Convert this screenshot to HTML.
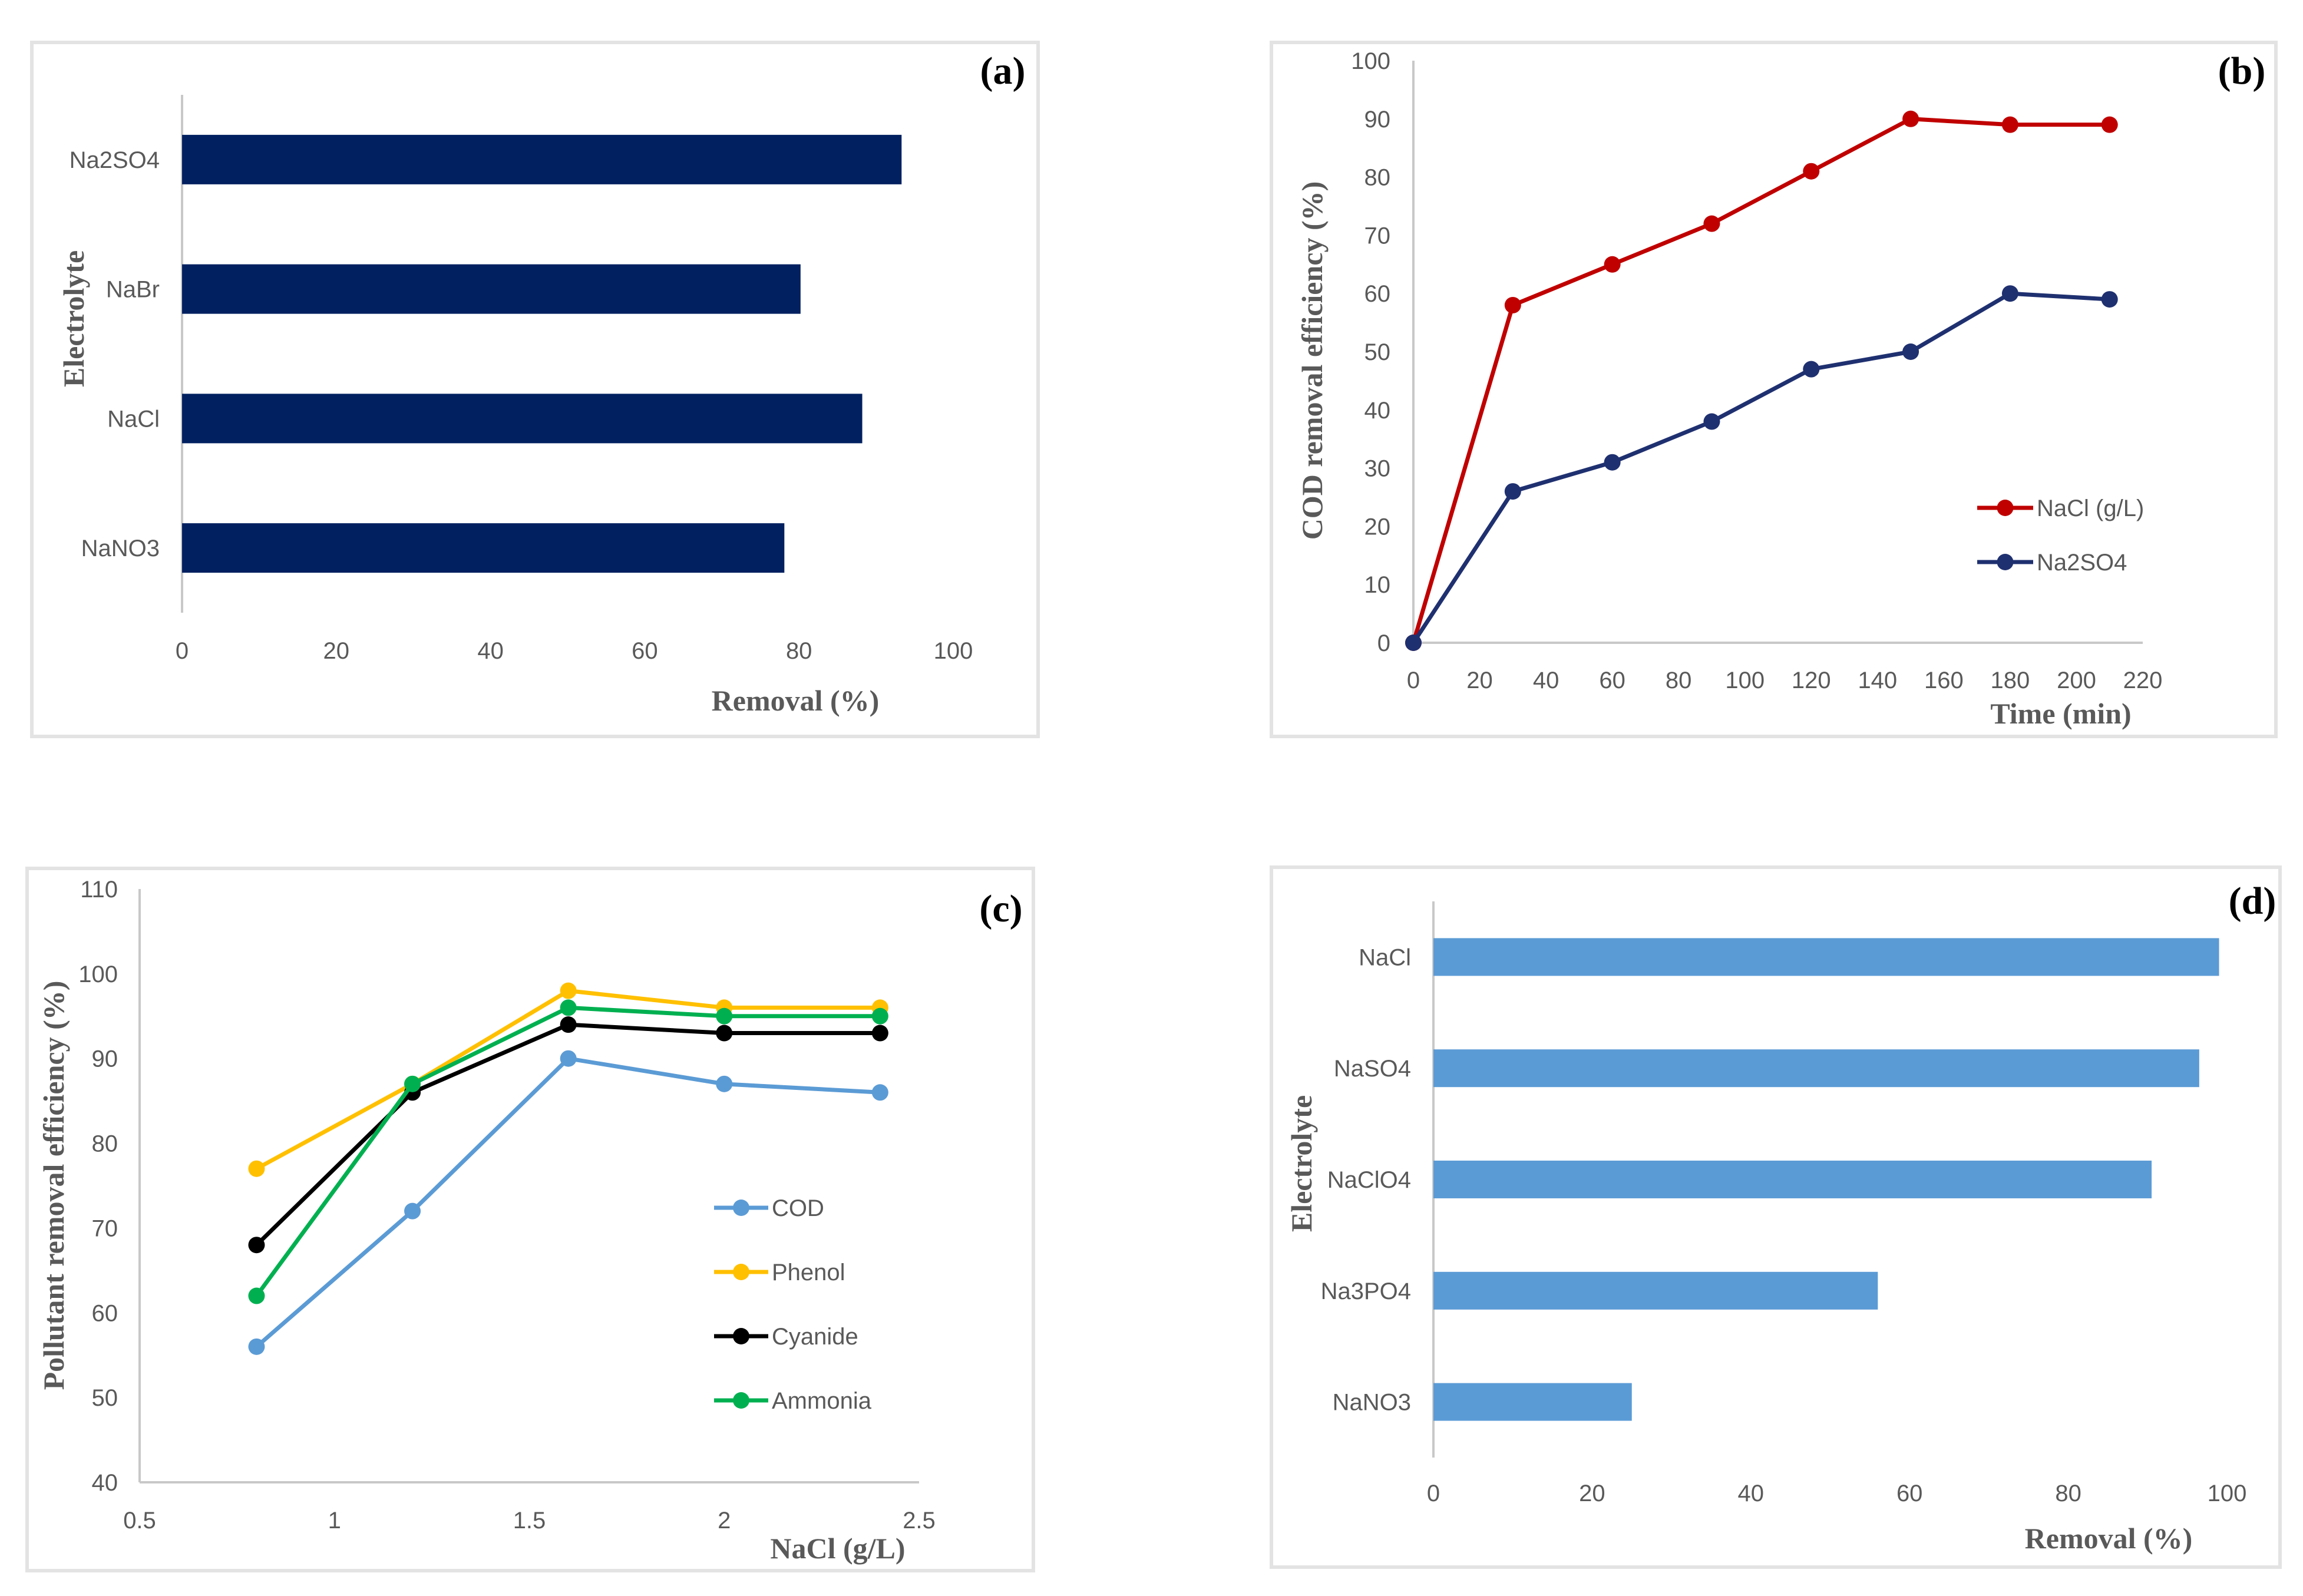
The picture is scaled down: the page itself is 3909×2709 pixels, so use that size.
<!DOCTYPE html>
<html><head><meta charset="utf-8">
<style>
html,body{margin:0;padding:0;background:#fff;}
svg{display:block;}
.tk{font-family:"Liberation Sans",sans-serif;font-size:40px;fill:#595959;}
.ttl{font-family:"Liberation Serif",serif;font-weight:bold;font-size:50px;fill:#595959;}
.lbl{font-family:"Liberation Serif",serif;font-weight:bold;font-size:66px;fill:#000;}
</style></head>
<body>
<svg id="fig" width="3909" height="2709" viewBox="0 0 3909 2709" xmlns="http://www.w3.org/2000/svg">
<rect x="0" y="0" width="3909" height="2709" fill="#fff"/>
<rect x="54" y="72" width="1708" height="1178" fill="none" stroke="#e3e3e3" stroke-width="6"/>
<rect x="2158" y="72" width="1705" height="1178" fill="none" stroke="#e3e3e3" stroke-width="6"/>
<rect x="46" y="1474" width="1708" height="1192" fill="none" stroke="#e3e3e3" stroke-width="6"/>
<rect x="2158" y="1472" width="1712" height="1188" fill="none" stroke="#e3e3e3" stroke-width="6"/>

<text class="lbl" x="1702" y="142" text-anchor="middle">(a)</text>
<text class="lbl" x="3805" y="142" text-anchor="middle">(b)</text>
<text class="lbl" x="1699" y="1564" text-anchor="middle">(c)</text>
<text class="lbl" x="3823" y="1551" text-anchor="middle">(d)</text>

<text class="ttl" x="1350" y="1206" text-anchor="middle">Removal (%)</text>
<text class="ttl" transform="translate(142,541) rotate(-90)" text-anchor="middle">Electrolyte</text>
<text class="ttl" x="3498" y="1228" text-anchor="middle">Time (min)</text>
<text class="ttl" transform="translate(2244,612) rotate(-90)" text-anchor="middle">COD removal efficiency (%)</text>
<text class="ttl" x="1422" y="2645" text-anchor="middle">NaCl (g/L)</text>
<text class="ttl" transform="translate(108,2012) rotate(-90)" text-anchor="middle">Pollutant removal efficiency (%)</text>
<text class="ttl" x="3579" y="2628" text-anchor="middle">Removal (%)</text>
<text class="ttl" transform="translate(2226,1975) rotate(-90)" text-anchor="middle">Electrolyte</text>
<g id="plots"></g>
</svg>
<script>
// Panel (a)
const aCategories = ["Na2SO4","NaBr","NaCl","NaNO3"];
const aValues = [93.3, 80.2, 88.2, 78.1];
const aTicks = [0,20,40,60,80,100];
// Panel (b)
const bTimes = [0,30,60,90,120,150,180,210];
const bNaCl = [0,58,65,72,81,90,89,89];
const bNa2SO4 = [0,26,31,38,47,50,60,59];
const bXTicks = [0,20,40,60,80,100,120,140,160,180,200,220];
const bYTicks = [0,10,20,30,40,50,60,70,80,90,100];
// Panel (c)
const cX = [0.8,1.2,1.6,2.0,2.4];
const cCOD = [56,72,90,87,86];
const cPhenol = [77,87,98,96,96];
const cCyanide = [68,86,94,93,93];
const cAmmonia = [62,87,96,95,95];
const cXTicks = [0.5,1,1.5,2,2.5];
const cYTicks = [40,50,60,70,80,90,100,110];
// Panel (d)
const dCategories = ["NaCl","NaSO4","NaClO4","Na3PO4","NaNO3"];
const dValues = [99.0, 96.5, 90.5, 56.0, 25.0];
const dTicks = [0,20,40,60,80,100];

const NS="http://www.w3.org/2000/svg";
const root=document.getElementById('plots');
function mk(tag,attrs,parent){const e=document.createElementNS(NS,tag);for(const k in attrs)e.setAttribute(k,attrs[k]);(parent||root).appendChild(e);return e;}
function txt(s,x,y,anchor,cls,parent){const t=mk('text',{x:x,y:y,'text-anchor':anchor,'class':cls},parent);t.textContent=s;return t;}

function hbar(prefix,cats,vals,ticks,ax,top,bottom,x100,tickY,color,barH){
  const sx=v=>ax+(x100-ax)*v/100;
  const band=(bottom-top)/cats.length;
  const axis=mk('line',{x1:ax,y1:top,x2:ax,y2:bottom,stroke:'#c8c8c8','stroke-width':4});
  
  
  ticks.forEach(t=>{const e=txt(String(t),sx(t),tickY,'middle','tk');
    
    });
  cats.forEach((c,i)=>{
    const cy=top+band*(i+0.5);
    const r=mk('rect',{x:ax,y:cy-barH/2,width:sx(vals[i])-ax,height:barH,fill:color});
    
    
    const l=txt(c,ax-38,cy+14,'end','tk');
    
    
  });
}
hbar('panel-a',aCategories,aValues,aTicks,309,161,1040,1618,1118,'#002060',84);
hbar('panel-d',dCategories,dValues,dTicks,2433,1530,2474,3780,2548,'#5B9BD5',64);

function lineChart(prefix,xmin,xmax,ymin,ymax,X0,X1,Y0,Y1,xt,yt,xTickY,yTickX,series,legend){
  const sx=v=>X0+(X1-X0)*(v-xmin)/(xmax-xmin);
  const sy=v=>Y0+(Y1-Y0)*(v-ymin)/(ymax-ymin);
  const ya=mk('line',{x1:X0,y1:Y0,x2:X0,y2:Y1,stroke:'#c8c8c8','stroke-width':4});
  
  
  const xa=mk('line',{x1:X0,y1:Y0,x2:X1,y2:Y0,stroke:'#c8c8c8','stroke-width':4});
  
  
  xt.forEach(t=>{const e=txt(String(t),sx(t),xTickY,'middle','tk');
    
    });
  yt.forEach(t=>{const e=txt(String(t),yTickX,sy(t)+14,'end','tk');
    
    });
  series.forEach((s,k)=>{
    const g=mk('g',{});
    
    
    const pts=s.xs.map((x,i)=>sx(x)+','+sy(s.ys[i])).join(' ');
    mk('polyline',{points:pts,fill:'none',stroke:s.color,'stroke-width':7,'stroke-linejoin':'round'},g);
    s.xs.forEach((x,i)=>{const c=mk('circle',{cx:sx(x),cy:sy(s.ys[i]),r:14,fill:s.color},g);
      
      });
    const ly=legend.ys[k];
    const lg=mk('g',{});
    
    
    mk('line',{x1:legend.x0,y1:ly,x2:legend.x1,y2:ly,stroke:s.color,'stroke-width':7},lg);
    mk('circle',{cx:(legend.x0+legend.x1)/2,cy:ly,r:14,fill:s.color},lg);
    txt(s.label,legend.x1+6,ly+14,'start','tk',lg);
  });
}
lineChart('panel-b',0,220,0,100,2399,3637,1091,103,bXTicks,bYTicks,1168,2360,
  [{key:'nacl',label:'NaCl (g/L)',color:'#C00000',xs:bTimes,ys:bNaCl},
   {key:'na2so4',label:'Na2SO4',color:'#1F3070',xs:bTimes,ys:bNa2SO4}],
  {x0:3356,x1:3451,ys:[862,954]});
lineChart('panel-c',0.5,2.5,40,110,237,1560,2516,1509,cXTicks,cYTicks,2594,200,
  [{key:'cod',label:'COD',color:'#5B9BD5',xs:cX,ys:cCOD},
   {key:'phenol',label:'Phenol',color:'#FFC000',xs:cX,ys:cPhenol},
   {key:'cyanide',label:'Cyanide',color:'#000000',xs:cX,ys:cCyanide},
   {key:'ammonia',label:'Ammonia',color:'#00B050',xs:cX,ys:cAmmonia}],
  {x0:1212,x1:1304,ys:[2050,2159,2268,2377]});
</script>
</body></html>
